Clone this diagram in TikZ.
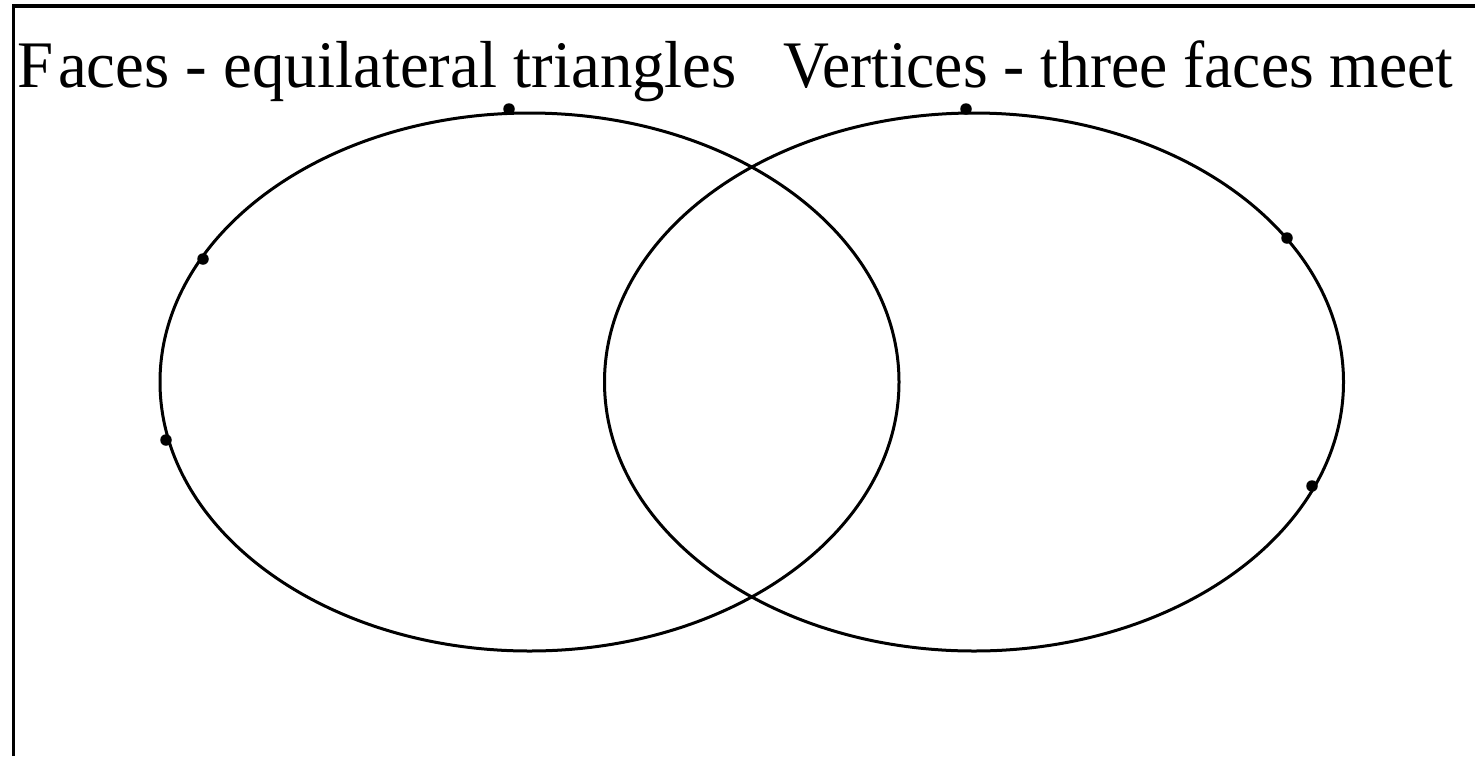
\documentclass[tikz,border=0pt]{standalone}
\usepackage{fontspec}
\setmainfont{Liberation Serif}
\usetikzlibrary{shapes.geometric}
\begin{document}
\begin{tikzpicture}[x=1pt,y=-1pt,
  setring/.style={draw=black,line width=3pt,ellipse,inner sep=0pt,minimum width=739pt,minimum height=538pt},
  dotmark/.style={circle,fill=black,inner sep=0pt,minimum size=11.5pt},
  heading/.style={anchor=base west,inner sep=0pt,font=\fontsize{66.5}{70}\selectfont}]
\useasboundingbox (0,0) rectangle (1475,756);
\fill[white] (0,0) rectangle (1475,756);
\draw[line width=3.5pt] (13.5,756) -- (13.5,6) -- (1475,6);
\node[setring] (A) at (529.5,382) {};
\node[setring] (B) at (974,382) {};
\node[heading] (ta) at (17,87) {\scalebox{0.975}[1]{F\kern5pt aces - equilateral triangles}};
\node[heading] (tb) at (783,87) {\scalebox{0.955}[1]{Vertices - three faces meet}};
\node[dotmark] (a1) at (509,109) {};
\node[dotmark] (a2) at (203,259) {};
\node[dotmark] (a3) at (166,440) {};
\node[dotmark] (b1) at (966,109) {};
\node[dotmark] (b2) at (1287,238) {};
\node[dotmark] (b3) at (1312,486) {};
\end{tikzpicture}
\end{document}
